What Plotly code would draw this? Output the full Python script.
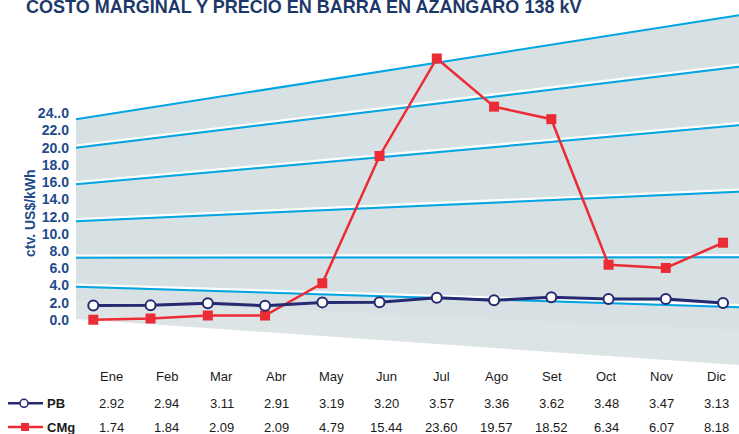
import plotly.graph_objects as go

# ---- data ----
months = ["Ene", "Feb", "Mar", "Abr", "May", "Jun", "Jul", "Ago", "Set", "Oct", "Nov", "Dic"]
pb = [2.92, 2.94, 3.11, 2.91, 3.19, 3.20, 3.57, 3.36, 3.62, 3.48, 3.47, 3.13]
cmg = [1.74, 1.84, 2.09, 2.09, 4.79, 15.44, 23.60, 19.57, 18.52, 6.34, 6.07, 8.18]
axis_ticks = [0, 2, 4, 6, 8, 10, 12, 14, 16, 18, 20, 22, 24]
axis_ticktext = ["0.0", "2.0", "4.0", "6.0", "8.0", "10.0", "12.0", "14.0",
                 "16.0", "18.0", "20.0", "22.0", "24..0"]
title_text = "COSTO MARGINAL Y PRECIO EN BARRA EN AZANGARO 138 kV"
y_title = "ctv. US$/kWh"

# ---- layout geometry (pixels) ----
W_FIG, H_FIG = 739, 434
L = 76
PW = W_FIG - L
H = H_FIG


def X(px):
    return (px - L) / PW


def Y(py):
    return 1 - py / H


NAVY_TXT = "#1f4a8a"
TITLE_C = "#1c3868"
BLUE = "#00a5e3"
GRAY = "#d7e0e2"
PB_C = "#262a70"
CM_C = "#ec2c35"

fig = go.Figure()

fig.add_trace(go.Scatter(
    x=list(range(len(months))), y=cmg, name="CMg", mode="lines+markers",
    line=dict(color=CM_C, width=2.5),
    marker=dict(symbol="square", size=10, color=CM_C),
    xaxis="x", yaxis="y2", showlegend=False))
fig.add_trace(go.Scatter(
    x=list(range(len(months))), y=pb, name="PB", mode="lines+markers",
    line=dict(color=PB_C, width=3),
    marker=dict(symbol="circle", size=10, color="white", line=dict(color=PB_C, width=2)),
    xaxis="x", yaxis="y2", showlegend=False))

shapes = []
# perspective floor
floor = [(76, 119.3), (739, 15.3), (739, 365), (76, 319)]
path = "M " + " L ".join(f"{X(a)},{Y(b)}" for a, b in floor) + " Z"
shapes.append(dict(type="path", path=path, xref="paper", yref="paper",
                   fillcolor=GRAY, line=dict(width=0), layer="below"))
# lighter band near the bottom
band = [(76, 300), (739, 330), (739, 365), (76, 319)]
path2 = "M " + " L ".join(f"{X(a)},{Y(b)}" for a, b in band) + " Z"
shapes.append(dict(type="path", path=path2, xref="paper", yref="paper",
                   fillcolor="rgba(255,255,255,0.15)", line=dict(width=0), layer="below"))

grid = [((76, 119.3), (739, 15.3)),
        ((76, 147.7), (739, 66.7)),
        ((76, 184.3), (739, 125.3)),
        ((76, 221.3), (739, 191.7)),
        ((76, 257.7), (739, 257.3)),
        ((76, 286.7), (739, 307.3))]
for (x0, y0), (x1, y1) in grid:
    shapes.append(dict(type="line", xref="paper", yref="paper",
                       x0=X(x0), y0=Y(y0 - 2.2), x1=X(x1), y1=Y(y1 - 2.2),
                       line=dict(color="white", width=2.2), layer="below"))
    shapes.append(dict(type="line", xref="paper", yref="paper",
                       x0=X(x0), y0=Y(y0), x1=X(x1), y1=Y(y1),
                       line=dict(color=BLUE, width=2), layer="below"))

# table legend keys
row_pb, row_cm, row_m = 403.3, 427.0, 376.7
shapes.append(dict(type="line", xref="paper", yref="paper",
                   x0=X(8), y0=Y(row_pb), x1=X(43), y1=Y(row_pb),
                   line=dict(color=PB_C, width=2.5)))
shapes.append(dict(type="circle", xref="paper", yref="paper",
                   x0=X(20), y0=Y(row_pb - 4), x1=X(28), y1=Y(row_pb + 4),
                   fillcolor="white", line=dict(color=PB_C, width=1.5)))
shapes.append(dict(type="line", xref="paper", yref="paper",
                   x0=X(8), y0=Y(row_cm), x1=X(43), y1=Y(row_cm),
                   line=dict(color=CM_C, width=2.5)))
shapes.append(dict(type="rect", xref="paper", yref="paper",
                   x0=X(21), y0=Y(row_cm - 4), x1=X(29), y1=Y(row_cm + 4),
                   fillcolor=CM_C, line=dict(width=0)))

ann = []
ann.append(dict(text=title_text, xref="paper", yref="paper", x=X(24), y=Y(6.5),
                xanchor="left", yanchor="middle", showarrow=False,
                font=dict(family="Liberation Sans, Arial", size=18, color=TITLE_C, weight="bold")))
ann.append(dict(text=y_title, xref="paper", yref="paper", x=X(30), y=Y(213),
                xanchor="center", yanchor="middle", textangle=-90, showarrow=False,
                font=dict(family="Liberation Sans, Arial", size=14, color=NAVY_TXT, weight="bold")))
tfont = dict(family="Liberation Sans, Arial", size=13, color="#1a1a1a")
for i, m in enumerate(months):
    ann.append(dict(text=m, xref="x2", yref="paper", x=i, y=Y(row_m),
                    xanchor="center", yanchor="middle", showarrow=False, font=tfont))
    ann.append(dict(text=f"{pb[i]:.2f}", xref="x2", yref="paper", x=i, y=Y(row_pb),
                    xanchor="center", yanchor="middle", showarrow=False, font=tfont))
    ann.append(dict(text=f"{cmg[i]:.2f}", xref="x2", yref="paper", x=i, y=Y(row_cm),
                    xanchor="center", yanchor="middle", showarrow=False, font=tfont))
bfont = dict(family="Liberation Sans, Arial", size=13, color="#1a1a1a", weight="bold")
ann.append(dict(text="PB", xref="paper", yref="paper", x=X(45), y=Y(row_pb),
                xanchor="left", yanchor="middle", showarrow=False, font=bfont))
ann.append(dict(text="CMg", xref="paper", yref="paper", x=X(45), y=Y(row_cm),
                xanchor="left", yanchor="middle", showarrow=False, font=bfont))

# axis ranges (pixel mapping)
x0p, dx = 93.3, 57.25
tx0, tdx = 111.7, 55.0
y_zero, y_per = 320.0, (320.0 - 113.3) / 24
d_zero, d_per = 340.5, 11.95

fig.update_layout(
    width=W_FIG, height=H_FIG, autosize=False,
    margin=dict(l=L, r=0, t=0, b=0),
    paper_bgcolor="white", plot_bgcolor="rgba(0,0,0,0)",
    shapes=shapes, annotations=ann,
    xaxis=dict(range=[(L - x0p) / dx, (W_FIG - x0p) / dx], visible=False, fixedrange=True),
    xaxis2=dict(range=[(L - tx0) / tdx, (W_FIG - tx0) / tdx], overlaying="x",
                visible=False, fixedrange=True),
    yaxis=dict(range=[(y_zero - H) / y_per, y_zero / y_per],
               tickvals=axis_ticks, ticktext=axis_ticktext,
               showgrid=False, zeroline=False, showline=False, ticks="",
               ticklabelstandoff=6,
               tickfont=dict(family="Liberation Sans, Arial", size=14, color=NAVY_TXT, weight="bold")),
    yaxis2=dict(range=[(d_zero - H) / d_per, d_zero / d_per], overlaying="y",
                visible=False, fixedrange=True),
    showlegend=False,
)

fig.write_html("out.html", config={"displayModeBar": False},
               post_script="document.body.style.margin='0';document.body.style.overflow='hidden';")
